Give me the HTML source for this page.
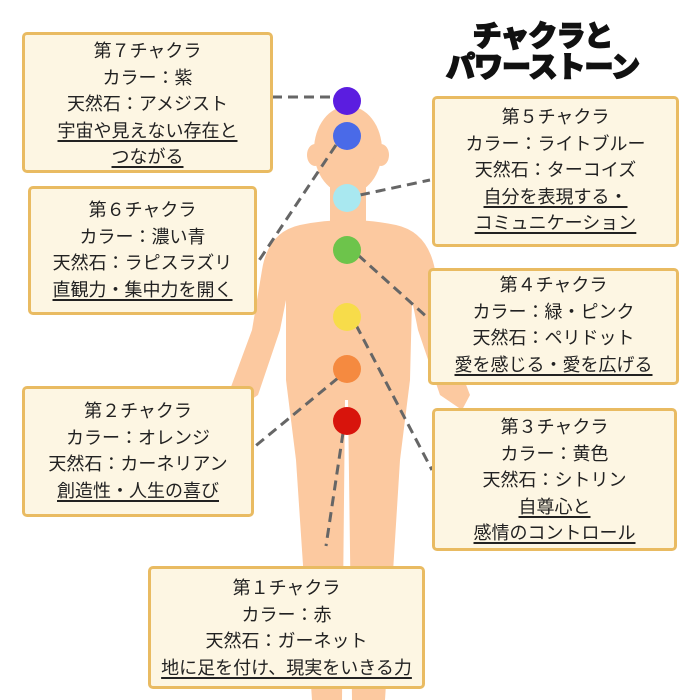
<!DOCTYPE html>
<html><head><meta charset="utf-8"><style>
body{margin:0;width:700px;height:700px;background:#fff;position:relative;overflow:hidden;font-family:"Liberation Sans","Noto Sans CJK JP",sans-serif}
.b{position:absolute;box-sizing:border-box;background:#fdf6e3;border:3px solid #e9bb62;border-radius:5px;text-align:center;font-size:18px;line-height:26.5px;color:#222;padding-top:3px;white-space:nowrap}
.b u{text-decoration:underline;text-decoration-thickness:1.5px;text-underline-offset:3px}
.t{position:absolute;left:405px;width:275px;text-align:center;font-weight:900;font-size:29px;line-height:31px;color:#111;-webkit-text-stroke:1.5px #111;letter-spacing:-1px}
svg{position:absolute;left:0;top:0}
</style></head><body>
<svg width="700" height="700">
<g fill="#fcc9a0">
<ellipse cx="348" cy="150" rx="34" ry="44"/>
<ellipse cx="315" cy="155" rx="8" ry="11"/><ellipse cx="381" cy="155" rx="8" ry="11"/>
<rect x="330" y="185" width="36" height="45"/>
<path d="M300 225 Q348 215 396 225 Q428 232 435 270 L445 330 L470 395 L462 410 L440 395 L418 330 L412 300 L410 380 L400 460 L385 700 L352 700 L348 400 L345 400 L342 700 L312 700 L296 460 L286 380 L286 300 L280 330 L258 395 L236 410 L228 395 L252 330 L262 270 Q268 232 300 225Z"/>
</g>
<g stroke="#666" stroke-width="3" stroke-dasharray="10 6" fill="none">
<line x1="272" y1="97" x2="333" y2="97"/>
<line x1="336" y1="145" x2="258" y2="262"/>
<line x1="360" y1="195" x2="430" y2="180"/>
<line x1="358" y1="255" x2="428" y2="318"/>
<line x1="356" y1="325" x2="432" y2="470"/>
<line x1="338" y1="378" x2="253" y2="448"/>
<line x1="343" y1="433" x2="326" y2="546"/>
</g>
<circle cx="347" cy="101" r="14" fill="#5b1de0"/>
<circle cx="347" cy="136" r="14" fill="#4a6ae8"/>
<circle cx="347" cy="198" r="14" fill="#a9e8f0"/>
<circle cx="347" cy="250" r="14" fill="#6dc44b"/>
<circle cx="347" cy="317" r="14" fill="#f7dc4a"/>
<circle cx="347" cy="369" r="14" fill="#f58a40"/>
<circle cx="347" cy="421" r="14" fill="#d8140c"/>
</svg>
<div class="t" style="top:22px">チャクラと</div>
<div class="t" style="top:53px">パワーストーン</div>
<div class="b" style="left:22px;top:32px;width:251px;height:141px">第７チャクラ<br>カラー：紫<br>天然石：アメジスト<br><u>宇宙や見えない存在と</u><br><u>つながる</u></div>
<div class="b" style="left:28px;top:186px;width:229px;height:129px;padding-top:8px">第６チャクラ<br>カラー：濃い青<br>天然石：ラピスラズリ<br><u>直観力・集中力を開く</u></div>
<div class="b" style="left:432px;top:96px;width:247px;height:151px;padding-top:5px">第５チャクラ<br>カラー：ライトブルー<br>天然石：ターコイズ<br><u>自分を表現する・</u><br><u>コミュニケーション</u></div>
<div class="b" style="left:428px;top:268px;width:251px;height:117px;padding-top:1px">第４チャクラ<br>カラー：緑・ピンク<br>天然石：ペリドット<br><u>愛を感じる・愛を広げる</u></div>
<div class="b" style="left:432px;top:408px;width:245px;height:143px">第３チャクラ<br>カラー：黄色<br>天然石：シトリン<br><u>自尊心と</u><br><u>感情のコントロール</u></div>
<div class="b" style="left:22px;top:386px;width:232px;height:131px;padding-top:9px">第２チャクラ<br>カラー：オレンジ<br>天然石：カーネリアン<br><u>創造性・人生の喜び</u></div>
<div class="b" style="left:148px;top:566px;width:277px;height:123px;padding-top:6px">第１チャクラ<br>カラー：赤<br>天然石：ガーネット<br><u>地に足を付け、現実をいきる力</u></div>
</body></html>
